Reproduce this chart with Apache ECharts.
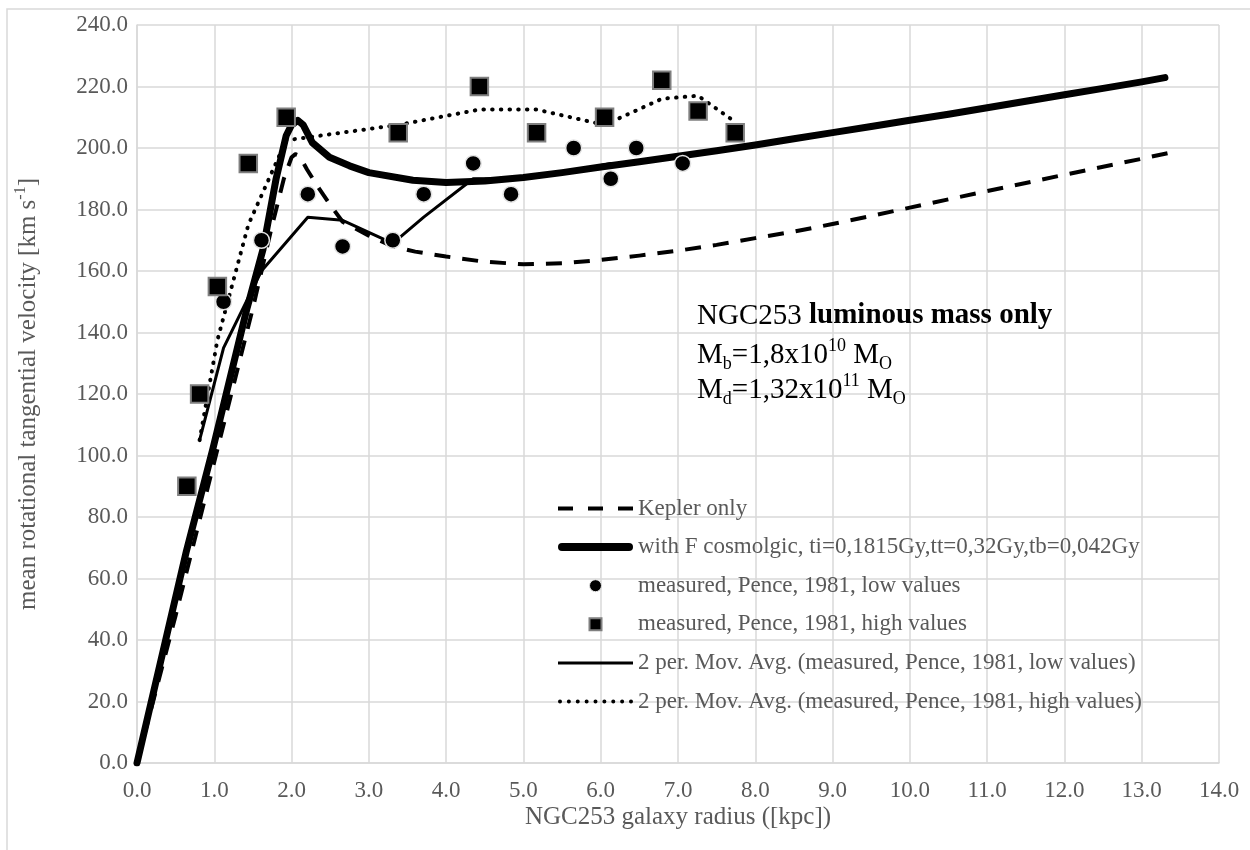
<!DOCTYPE html>
<html>
<head>
<meta charset="utf-8">
<script src="https://cdn.jsdelivr.net/npm/echarts@6/dist/echarts.min.js"></script>
<style>
  html, body { margin: 0; padding: 0; background: #ffffff; }
  #chart { width: 1250px; height: 850px; }
</style>
</head>
<body>
<div id="chart"></div>
<script>
// Kepler-only rotation curve (radius in kpc, velocity in km/s)
const keplerR = [0, 0.5, 1.0, 1.5, 1.75, 1.9, 2.0, 2.05, 2.1, 2.2, 2.35, 2.5, 2.66, 3.0, 3.31, 3.6, 4.0, 4.5, 5.0, 5.5, 6.0, 6.5, 7.0, 7.5, 8.0, 8.5, 9.0, 9.5, 10.0, 10.5, 11.0, 11.5, 12.0, 12.5, 13.0, 13.35];
const keplerV = [0, 48, 98, 148, 175, 190, 197, 198, 197.5, 193, 187, 181.5, 176, 171.5, 168, 166.3, 164.7, 163, 162.2, 162.5, 163.6, 165, 166.6, 168.5, 170.7, 172.8, 175.3, 177.9, 180.6, 183.3, 186, 188.6, 191.3, 193.9, 196.5, 198.4];

// Rotation curve including the cosmological force term
const cosmoR = [0, 0.64, 0.98, 1.42, 1.63, 1.8, 1.93, 2.0, 2.08, 2.15, 2.27, 2.49, 2.75, 3.0, 3.57, 4.0, 4.5, 5.0, 5.5, 6.0, 6.5, 7.0, 7.5, 8.0, 8.5, 9.0, 9.5, 10.0, 10.5, 11.0, 11.5, 12.0, 12.5, 13.0, 13.3];
const cosmoV = [0, 69, 102, 147.5, 167, 190, 204, 207.5, 209, 207.5, 201.7, 197, 194.2, 192, 189.5, 188.8, 189.3, 190.4, 192, 193.8, 195.5, 197.3, 199.1, 201, 203, 205, 207, 209, 211, 213.1, 215.2, 217.3, 219.4, 221.5, 222.9];

// Measured velocities (Pence, 1981)
const lowR  = [0.645, 0.81, 1.12, 1.61, 2.21, 2.66, 3.31, 3.71, 4.35, 4.84, 5.65, 6.13, 6.46, 7.06];
const lowV  = [90, 120, 150, 170, 185, 168, 170, 185, 195, 185, 200, 190, 200, 195];
const highR = [0.645, 0.81, 1.04, 1.44, 1.93, 3.38, 4.43, 5.17, 6.05, 6.79, 7.26, 7.74];
const highV = [90, 120, 155, 195, 210, 205, 220, 205, 210, 222, 212, 205];

const seriesNames = [
  'Kepler only',
  'with F cosmolgic, ti=0,1815Gy,tt=0,32Gy,tb=0,042Gy',
  'measured, Pence, 1981, low values',
  'measured, Pence, 1981, high values',
  '2 per. Mov. Avg. (measured, Pence, 1981, low values)',
  '2 per. Mov. Avg. (measured, Pence, 1981, high values)'
];

const SERIF = '"Liberation Serif", "Times New Roman", serif';
const GREY_TEXT = '#595959';
const GRID_GREY = '#d9d9d9';

function pairs(r, v) {
  return r.map((x, i) => [x, v[i]]);
}
// Two-period moving average trendline, placed at the later point of each pair
function movingAverage2(r, v) {
  const out = [];
  for (let i = 1; i < r.length; i++) out.push([r[i], (v[i - 1] + v[i]) / 2]);
  return out;
}

// Legend icon shapes (path bounding boxes are fitted into the icon box)
function dashIcon() {
  return 'path://M0,0H15V4H0Z M30,0H45V4H30Z M60,0H75V4H60Z';
}
function dotIcon() {
  let p = 'path://';
  for (let i = 0; i < 9; i++) {
    const cx = 2 + i * 8.875;
    p += 'M' + (cx - 2) + ',2A2,2 0 1,0 ' + (cx + 2) + ',2A2,2 0 1,0 ' + (cx - 2) + ',2Z ';
  }
  return p;
}
const thickIcon = 'path://M4,0H71A4,4 0 0,1 71,8H4A4,4 0 0,1 4,0Z';
const thinIcon = 'path://M0,0H75V3H0Z';
const squareIcon = 'path://M0,0H10V10H0Z';

const chart = echarts.init(document.getElementById('chart'), null, { renderer: 'canvas' });

const mainText = { fontFamily: SERIF, fontSize: 29, color: '#000', lineHeight: 36 };
const subText = { fontFamily: SERIF, fontSize: 18, color: '#000', lineHeight: 18, verticalAlign: 'bottom' };
const supText = { fontFamily: SERIF, fontSize: 18, color: '#000', lineHeight: 18, verticalAlign: 'top' };

chart.setOption({
  animation: false,
  backgroundColor: '#ffffff',
  grid: { left: 137, right: 31, top: 25, bottom: 87, containLabel: false, outerBoundsMode: 'none' },
  xAxis: {
    type: 'value', min: 0, max: 14, interval: 1,
    name: 'NGC253 galaxy radius ([kpc])',
    nameLocation: 'middle', nameGap: 42, nameMoveOverlap: false,
    nameTextStyle: { fontFamily: SERIF, fontSize: 25, color: GREY_TEXT },
    axisLine: { show: true, lineStyle: { color: GRID_GREY, width: 1.5 } },
    axisTick: { show: false },
    axisLabel: { fontFamily: SERIF, fontSize: 23, color: GREY_TEXT, margin: 16, formatter: v => v.toFixed(1) },
    splitLine: { show: true, lineStyle: { color: GRID_GREY, width: 1.5 } }
  },
  yAxis: {
    type: 'value', min: 0, max: 240, interval: 20,
    name: '{a|mean rotational tangential velocity [km s}{sup|-1}{a|]}',
    nameLocation: 'middle', nameGap: 94, nameRotate: 90, nameMoveOverlap: false,
    nameTextStyle: {
      fontFamily: SERIF, fontSize: 25, color: GREY_TEXT,
      rich: {
        a: { fontFamily: SERIF, fontSize: 25, color: GREY_TEXT, lineHeight: 30 },
        sup: { fontFamily: SERIF, fontSize: 16, color: GREY_TEXT, lineHeight: 16, verticalAlign: 'top' }
      }
    },
    axisLine: { show: true, lineStyle: { color: GRID_GREY, width: 1.5 } },
    axisTick: { show: false },
    axisLabel: { fontFamily: SERIF, fontSize: 23, color: GREY_TEXT, margin: 9, formatter: v => v.toFixed(1) },
    splitLine: { show: true, lineStyle: { color: GRID_GREY, width: 1.5 } }
  },
  legend: {
    orient: 'vertical', left: 558, top: 496.5, padding: 0,
    itemWidth: 75, itemHeight: 12, itemGap: 14.6,
    selectedMode: false,
    textStyle: { fontFamily: SERIF, fontSize: 23, color: GREY_TEXT, lineHeight: 24 },
    data: [
      { name: seriesNames[0], icon: dashIcon(), itemStyle: { color: '#000', borderWidth: 0, opacity: 1 } },
      { name: seriesNames[1], icon: thickIcon, itemStyle: { color: '#000', borderWidth: 0, opacity: 1 } },
      { name: seriesNames[2], icon: 'circle', itemStyle: { color: '#000', borderColor: '#e3e3e3', borderWidth: 1, opacity: 1 } },
      { name: seriesNames[3], icon: squareIcon, itemStyle: { color: '#000', borderColor: '#7f7f7f', borderWidth: 2, opacity: 1 } },
      { name: seriesNames[4], icon: thinIcon, itemStyle: { color: '#000', borderWidth: 0, opacity: 1 } },
      { name: seriesNames[5], icon: dotIcon(), itemStyle: { color: '#000', borderWidth: 0, opacity: 1 } }
    ]
  },
  graphic: [
    {
      type: 'rect', silent: true, z: -10,
      shape: { x: 7, y: 9, width: 1260, height: 860 },
      style: { fill: 'none', stroke: GRID_GREY, lineWidth: 1.5 }
    },
    {
      type: 'text', x: 697, y: 316, z: 100,
      style: {
        text: '{n|NGC253 }{b|luminous mass only}',
        verticalAlign: 'middle',
        rich: { n: mainText, b: Object.assign({}, mainText, { fontWeight: 'bold' }) }
      }
    },
    {
      type: 'text', x: 697, y: 355, z: 100,
      style: {
        text: '{n|M}{sub|b}{n|=1,8x10}{sup|10}{n| M}{sub|O}',
        verticalAlign: 'middle',
        rich: { n: mainText, sub: subText, sup: supText }
      }
    },
    {
      type: 'text', x: 697, y: 390, z: 100,
      style: {
        text: '{n|M}{sub|d}{n|=1,32x10}{sup|11}{n| M}{sub|O}',
        verticalAlign: 'middle',
        rich: { n: mainText, sub: subText, sup: supText }
      }
    }
  ],
  series: [
    {
      name: seriesNames[0], type: 'line', data: pairs(keplerR, keplerV),
      symbol: 'none', z: 2, color: '#000',
      lineStyle: { color: '#000', width: 4, type: [16, 12], cap: 'butt', join: 'round' }
    },
    {
      name: seriesNames[1], type: 'line', data: pairs(cosmoR, cosmoV),
      symbol: 'none', z: 3, color: '#000',
      lineStyle: { color: '#000', width: 7, cap: 'round', join: 'round' }
    },
    {
      name: seriesNames[4], type: 'line', data: movingAverage2(lowR, lowV),
      symbol: 'none', z: 4, color: '#000',
      lineStyle: { color: '#000', width: 3, join: 'round' }
    },
    {
      name: seriesNames[5], type: 'line', data: movingAverage2(highR, highV),
      symbol: 'none', z: 4, color: '#000',
      lineStyle: { color: '#000', width: 4, type: [0.5, 8.2], cap: 'round', join: 'round' }
    },
    {
      name: seriesNames[2], type: 'scatter', data: pairs(lowR, lowV),
      symbol: 'circle', symbolSize: 16, z: 5, color: '#000',
      itemStyle: { color: '#000', borderColor: '#e3e3e3', borderWidth: 1.5, opacity: 1 }
    },
    {
      name: seriesNames[3], type: 'scatter', data: pairs(highR, highV),
      symbol: 'rect', symbolSize: 17.5, z: 6, color: '#000',
      itemStyle: { color: '#000', borderColor: '#7f7f7f', borderWidth: 2, opacity: 1 }
    }
  ]
});
</script>
</body>
</html>
